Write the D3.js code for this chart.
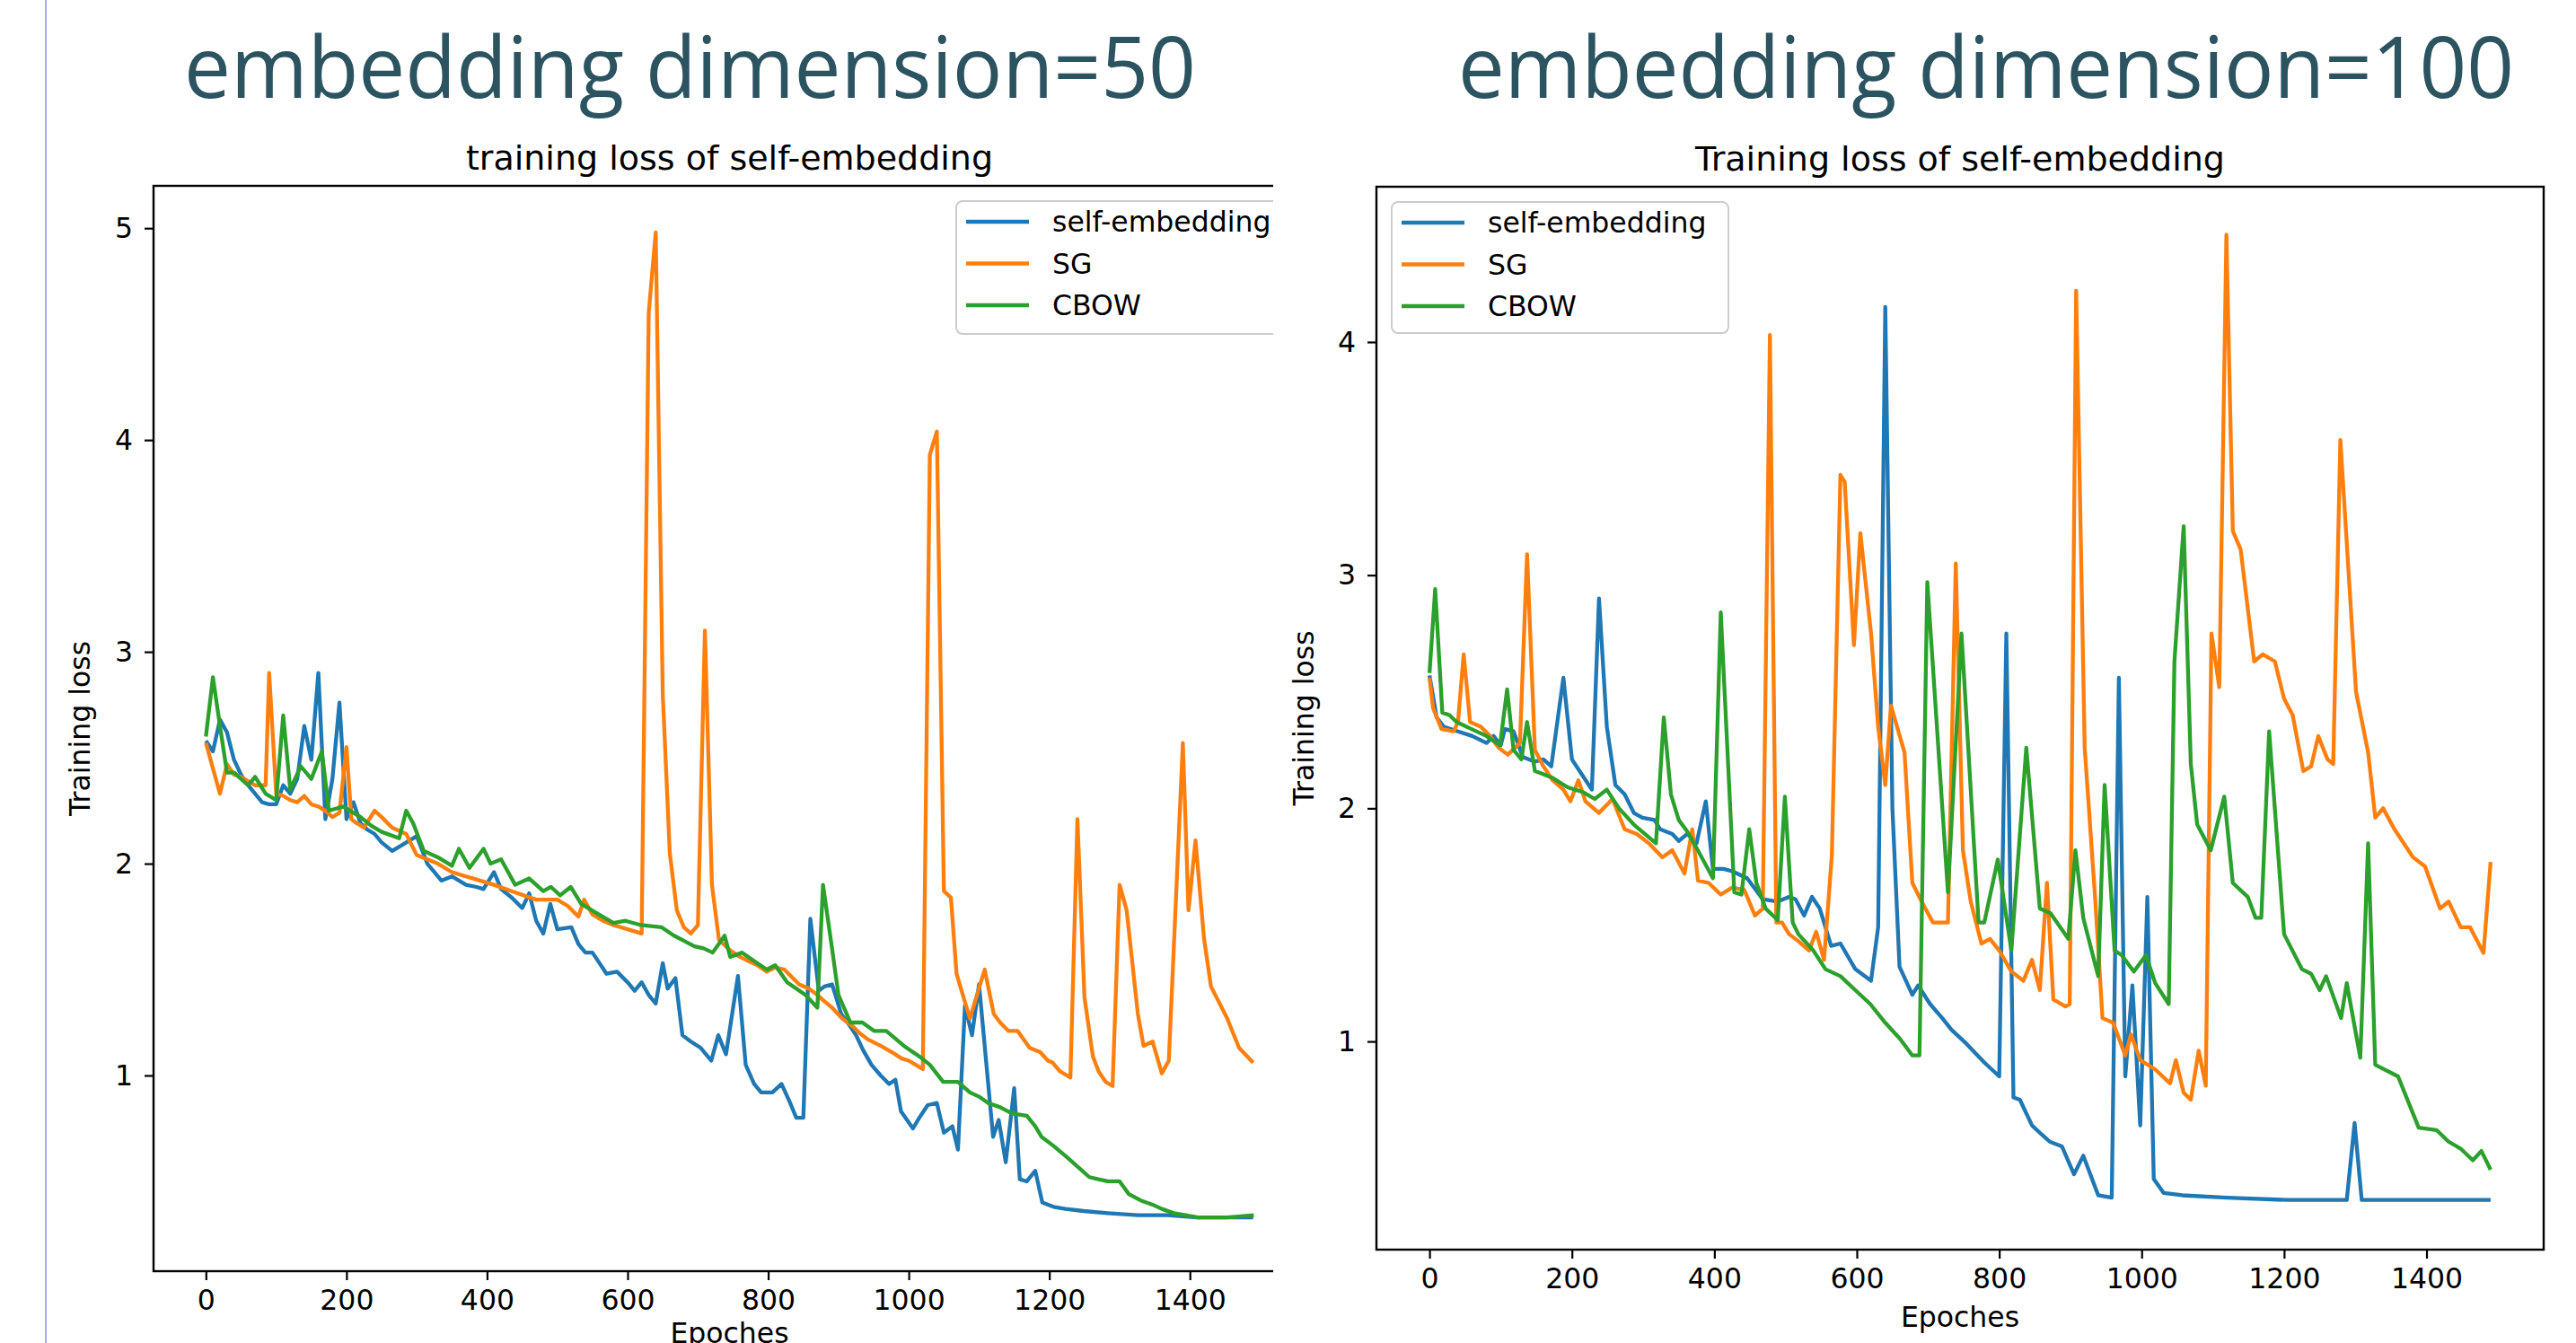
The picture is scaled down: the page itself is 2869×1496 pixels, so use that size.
<!DOCTYPE html>
<html><head><meta charset="utf-8">
<script src="https://cdn.jsdelivr.net/npm/d3@7"></script>
<style>html,body{margin:0;padding:0;background:#fff;overflow:hidden}</style>
</head><body>
<svg id="c" width="2869" height="1496" xmlns="http://www.w3.org/2000/svg"></svg>
<script>
// ---------- data ----------
const epochTicks = [0, 200, 400, 600, 800, 1000, 1200, 1400];
const lossTicks50 = [1, 2, 3, 4, 5];
const lossTicks100 = [1, 2, 3, 4];
const seriesNames = ["self-embedding", "SG", "CBOW"];
const seriesColors = ["#1f77b4", "#ff7f0e", "#2ca02c"];
const headings = ["embedding dimension=50", "embedding dimension=100"];
const titles = ["training loss of self-embedding", "Training loss of self-embedding"];
const xLabel = "Epoches";
const yLabel = "Training loss";

// embedding dimension = 50 : [epoch, loss]
const dim50_self = [[0,2.58],[10,2.53],[20,2.68],[30,2.62],[40,2.49],[50,2.42],[60,2.37],[70,2.33],[80,2.29],[90,2.28],[100,2.28],[110,2.37],[120,2.33],[130,2.40],[140,2.65],[150,2.49],[160,2.90],[170,2.21],[180,2.40],[190,2.76],[200,2.21],[210,2.29],[220,2.19],[230,2.16],[240,2.14],[250,2.10],[265,2.06],[280,2.09],[290,2.11],[300,2.13],[315,2.00],[325,1.96],[335,1.92],[350,1.94],[360,1.92],[370,1.90],[385,1.89],[395,1.88],[410,1.96],[420,1.88],[435,1.84],[450,1.79],[460,1.86],[470,1.73],[480,1.67],[490,1.81],[500,1.69],[520,1.70],[530,1.62],[540,1.58],[550,1.58],[560,1.53],[570,1.48],[585,1.49],[600,1.44],[610,1.40],[620,1.44],[630,1.38],[640,1.34],[650,1.53],[657,1.41],[668,1.46],[678,1.19],[690,1.16],[704,1.13],[719,1.07],[729,1.19],[740,1.10],[757,1.47],[768,1.05],[780,0.96],[790,0.92],[806,0.92],[819,0.96],[830,0.88],[840,0.80],[850,0.80],[860,1.74],[872,1.40],[880,1.42],[891,1.43],[904,1.29],[915,1.24],[925,1.19],[935,1.12],[947,1.05],[960,1.00],[972,0.96],[981,0.98],[989,0.83],[1006,0.75],[1015,0.80],[1027,0.86],[1040,0.87],[1050,0.73],[1062,0.76],[1070,0.65],[1080,1.33],[1090,1.19],[1100,1.43],[1110,1.07],[1120,0.71],[1128,0.79],[1138,0.59],[1150,0.94],[1158,0.51],[1168,0.50],[1180,0.55],[1190,0.40],[1206,0.38],[1223,0.37],[1249,0.36],[1283,0.35],[1326,0.34],[1368,0.34],[1411,0.33],[1453,0.33],[1490,0.33]];
const dim50_sg = [[0,2.57],[10,2.45],[20,2.33],[30,2.47],[40,2.42],[50,2.41],[60,2.39],[70,2.37],[85,2.37],[90,2.90],[100,2.33],[110,2.32],[120,2.30],[130,2.29],[140,2.32],[150,2.28],[160,2.27],[170,2.25],[180,2.22],[190,2.24],[200,2.55],[207,2.21],[215,2.19],[225,2.17],[240,2.25],[250,2.22],[265,2.17],[285,2.14],[300,2.04],[315,2.02],[330,2.00],[350,1.96],[370,1.94],[390,1.92],[410,1.90],[435,1.87],[470,1.83],[500,1.83],[515,1.80],[530,1.75],[538,1.83],[550,1.76],[565,1.73],[580,1.71],[600,1.69],[620,1.67],[630,4.60],[640,4.98],[650,2.80],[660,2.05],[670,1.78],[680,1.70],[690,1.67],[700,1.71],[710,3.10],[720,1.90],[730,1.64],[746,1.59],[760,1.56],[772,1.54],[785,1.52],[798,1.49],[810,1.51],[823,1.50],[844,1.43],[858,1.41],[870,1.38],[880,1.35],[891,1.32],[905,1.27],[921,1.23],[930,1.20],[942,1.17],[960,1.14],[976,1.11],[990,1.08],[1000,1.07],[1010,1.05],[1020,1.03],[1030,3.93],[1040,4.04],[1050,1.87],[1060,1.84],[1068,1.48],[1077,1.38],[1087,1.27],[1108,1.50],[1121,1.29],[1130,1.25],[1142,1.21],[1155,1.21],[1172,1.13],[1187,1.11],[1198,1.07],[1205,1.06],[1215,1.02],[1230,0.99],[1240,2.21],[1250,1.37],[1262,1.09],[1270,1.02],[1280,0.97],[1290,0.95],[1300,1.90],[1310,1.78],[1326,1.29],[1334,1.14],[1347,1.16],[1360,1.01],[1370,1.07],[1390,2.57],[1398,1.78],[1408,2.11],[1420,1.65],[1430,1.42],[1453,1.27],[1470,1.13],[1490,1.06]];
const dim50_cbow = [[0,2.60],[10,2.88],[20,2.65],[30,2.43],[40,2.43],[50,2.40],[60,2.37],[70,2.41],[85,2.33],[100,2.30],[110,2.70],[120,2.35],[135,2.46],[150,2.40],[165,2.53],[175,2.25],[185,2.26],[195,2.27],[210,2.24],[220,2.22],[235,2.18],[250,2.15],[275,2.12],[285,2.25],[295,2.19],[310,2.06],[330,2.03],[350,1.99],[360,2.07],[375,1.98],[395,2.07],[405,2.00],[420,2.02],[440,1.90],[460,1.93],[480,1.87],[491,1.89],[504,1.85],[519,1.89],[534,1.81],[559,1.76],[580,1.72],[597,1.73],[619,1.71],[648,1.70],[666,1.66],[695,1.61],[708,1.60],[721,1.58],[738,1.66],[746,1.56],[763,1.58],[780,1.54],[798,1.50],[810,1.52],[827,1.44],[840,1.41],[853,1.38],[870,1.32],[878,1.90],[890,1.62],[900,1.38],[917,1.25],[934,1.25],[951,1.21],[968,1.21],[993,1.14],[1019,1.08],[1030,1.05],[1049,0.97],[1070,0.97],[1087,0.92],[1100,0.90],[1113,0.87],[1130,0.85],[1147,0.82],[1168,0.81],[1180,0.76],[1189,0.71],[1205,0.67],[1223,0.62],[1240,0.57],[1257,0.52],[1270,0.51],[1283,0.50],[1300,0.50],[1313,0.44],[1330,0.41],[1347,0.39],[1360,0.37],[1377,0.35],[1394,0.34],[1411,0.33],[1453,0.33],[1491,0.34]];

// embedding dimension = 100 : [epoch, loss]
const dim100_self = [[0,2.57],[10,2.39],[20,2.35],[40,2.33],[60,2.31],[80,2.28],[90,2.31],[100,2.27],[106,2.34],[118,2.33],[131,2.22],[148,2.20],[160,2.21],[171,2.18],[188,2.56],[200,2.21],[215,2.14],[228,2.08],[238,2.90],[249,2.35],[261,2.10],[274,2.06],[287,1.98],[299,1.96],[316,1.95],[324,1.91],[341,1.89],[350,1.86],[362,1.89],[375,1.85],[388,2.03],[398,1.74],[413,1.74],[425,1.73],[446,1.70],[468,1.61],[489,1.60],[505,1.62],[514,1.61],[526,1.54],[537,1.62],[548,1.57],[558,1.47],[564,1.41],[577,1.42],[598,1.31],[620,1.26],[630,1.49],[640,4.15],[650,2.00],[660,1.32],[678,1.20],[686,1.24],[703,1.16],[720,1.10],[733,1.05],[754,0.99],[779,0.91],[800,0.85],[810,2.75],[820,0.76],[829,0.75],[846,0.64],[860,0.60],[871,0.57],[888,0.55],[905,0.43],[918,0.51],[939,0.34],[958,0.33],[968,2.56],[977,0.85],[987,1.24],[998,0.64],[1008,1.62],[1017,0.41],[1031,0.35],[1057,0.34],[1120,0.33],[1204,0.32],[1288,0.32],[1299,0.65],[1309,0.32],[1372,0.32],[1490,0.32]];
const dim100_sg = [[0,2.56],[5,2.43],[17,2.34],[34,2.33],[40,2.37],[48,2.66],[57,2.37],[72,2.35],[85,2.31],[97,2.26],[110,2.23],[127,2.28],[137,3.09],[148,2.25],[160,2.18],[173,2.12],[188,2.08],[198,2.03],[209,2.12],[219,2.03],[238,1.98],[257,2.04],[274,1.91],[291,1.89],[308,1.85],[327,1.79],[341,1.82],[358,1.72],[369,1.91],[377,1.69],[392,1.68],[409,1.63],[425,1.66],[442,1.65],[457,1.54],[468,1.57],[478,4.03],[487,1.51],[495,1.51],[505,1.46],[518,1.43],[533,1.39],[543,1.47],[554,1.35],[565,1.80],[577,3.43],[583,3.40],[596,2.70],[605,3.18],[620,2.75],[630,2.35],[640,2.10],[648,2.44],[667,2.24],[678,1.68],[691,1.60],[707,1.51],[728,1.51],[739,3.05],[749,1.82],[760,1.60],[775,1.42],[787,1.44],[800,1.39],[817,1.30],[834,1.26],[846,1.35],[857,1.22],[867,1.68],[876,1.18],[893,1.15],[899,1.16],[908,4.22],[920,2.26],[935,1.60],[945,1.10],[960,1.08],[977,0.94],[985,1.03],[998,0.92],[1019,0.88],[1040,0.82],[1048,0.92],[1059,0.78],[1069,0.75],[1080,0.96],[1090,0.81],[1098,2.75],[1109,2.52],[1119,4.46],[1128,3.19],[1139,3.11],[1158,2.63],[1170,2.66],[1187,2.63],[1200,2.47],[1212,2.40],[1227,2.16],[1238,2.18],[1248,2.31],[1261,2.21],[1269,2.19],[1279,3.58],[1301,2.50],[1318,2.24],[1328,1.96],[1339,2.00],[1355,1.91],[1381,1.79],[1398,1.75],[1419,1.57],[1431,1.60],[1448,1.49],[1461,1.49],[1480,1.38],[1490,1.77]];
const dim100_cbow = [[0,2.58],[8,2.94],[18,2.41],[28,2.40],[38,2.37],[59,2.34],[80,2.31],[99,2.27],[109,2.51],[118,2.25],[129,2.21],[137,2.37],[148,2.16],[173,2.13],[194,2.09],[215,2.07],[232,2.04],[249,2.08],[266,2.00],[287,1.93],[318,1.85],[329,2.39],[339,2.06],[350,1.95],[362,1.90],[375,1.83],[398,1.70],[409,2.84],[428,1.64],[438,1.63],[449,1.91],[459,1.68],[472,1.57],[489,1.52],[499,2.05],[510,1.51],[518,1.46],[539,1.39],[556,1.31],[577,1.28],[598,1.22],[619,1.16],[640,1.08],[661,1.01],[678,0.94],[688,0.94],[699,2.97],[728,1.64],[747,2.75],[771,1.51],[779,1.51],[798,1.78],[817,1.39],[838,2.26],[857,1.57],[872,1.55],[897,1.44],[907,1.82],[918,1.53],[939,1.28],[948,2.10],[962,1.39],[972,1.37],[989,1.30],[1006,1.37],[1019,1.25],[1038,1.16],[1046,2.63],[1059,3.21],[1069,2.19],[1078,1.93],[1097,1.82],[1116,2.05],[1128,1.68],[1149,1.62],[1160,1.53],[1168,1.53],[1179,2.33],[1200,1.46],[1225,1.31],[1238,1.29],[1250,1.22],[1259,1.28],[1280,1.10],[1288,1.25],[1307,0.93],[1318,1.85],[1328,0.90],[1360,0.85],[1389,0.63],[1414,0.62],[1431,0.57],[1448,0.54],[1465,0.49],[1477,0.53],[1490,0.45]];

// ---------- drawing ----------
const svg = d3.select("#c");
const FONT = "DejaVu Sans, sans-serif";
const TICK_FS = 31.5, TITLE_FS = 38, LEG_FS = 31.5;

svg.append("rect").attr("width", 2869).attr("height", 1496).attr("fill", "#fff");
// slide edge line
svg.append("line").attr("x1", 51).attr("x2", 51).attr("y1", 0).attr("y2", 1496)
  .attr("stroke", "#a7aedb").attr("stroke-width", 2);

// headings
const headPos = [{x: 205, len: 1127}, {x: 1624, len: 1176}];
headings.forEach((h, i) => {
  svg.append("text").attr("x", headPos[i].x).attr("y", 109)
    .attr("font-family", "Open Sans, Noto Sans, sans-serif").attr("font-size", 95)
    .attr("fill", "#2b5360").attr("textLength", headPos[i].len)
    .attr("lengthAdjust", "spacingAndGlyphs").text(h);
});

function panel(cfg) {
  const defs = svg.append("defs");
  const cid = "clip" + cfg.id;
  defs.append("clipPath").attr("id", cid).append("rect")
    .attr("x", 0).attr("y", 0).attr("width", cfg.clipRight).attr("height", 1496);
  defs.append("clipPath").attr("id", cid + "p").append("rect")
    .attr("x", cfg.x0).attr("y", cfg.y1).attr("width", cfg.x1 - cfg.x0).attr("height", cfg.y0 - cfg.y1);

  const g = svg.append("g").attr("clip-path", cfg.clipRight ? `url(#${cid})` : null);
  const x = d3.scaleLinear().domain([-74.5, 1564.5]).range([cfg.x0, cfg.x1]);
  const y = d3.scaleLinear().domain(cfg.yDomain).range([cfg.y0, cfg.y1]);

  const line = d3.line().x(d => x(d[0])).y(d => y(d[1]));
  const pg = g.append("g").attr("clip-path", `url(#${cid}p)`);
  cfg.series.forEach((s, i) => {
    pg.append("path").datum(s).attr("d", line).attr("fill", "none")
      .attr("stroke", seriesColors[i]).attr("stroke-width", 4.3)
      .attr("stroke-linejoin", "round").attr("stroke-linecap", "butt");
  });

  // axes
  const xa = g.append("g").attr("transform", `translate(0,${cfg.y0})`)
    .call(d3.axisBottom(x).tickValues(epochTicks).tickSize(10).tickPadding(11).tickFormat(d3.format("d")));
  const ya = g.append("g").attr("transform", `translate(${cfg.x0},0)`)
    .call(d3.axisLeft(y).tickValues(cfg.yTicks).tickSize(10).tickPadding(13).tickFormat(d3.format("d")));
  [xa, ya].forEach(a => {
    a.select(".domain").remove();
    a.selectAll(".tick line").attr("stroke", "#000").attr("stroke-width", 2.2);
    a.selectAll(".tick text").attr("font-family", FONT).attr("font-size", TICK_FS).attr("fill", "#000");
  });

  // frame
  g.append("rect").attr("x", cfg.x0).attr("y", cfg.y1).attr("width", cfg.x1 - cfg.x0)
    .attr("height", cfg.y0 - cfg.y1).attr("fill", "none").attr("stroke", "#000").attr("stroke-width", 2.4);

  // title & labels
  const cx = (cfg.x0 + cfg.x1) / 2;
  g.append("text").attr("x", cx).attr("y", cfg.y1 - 18).attr("text-anchor", "middle")
    .attr("font-family", FONT).attr("font-size", TITLE_FS).text(cfg.title);
  g.append("text").attr("x", cx).attr("y", cfg.y0 + cfg.xLabelDy).attr("text-anchor", "middle")
    .attr("font-family", FONT).attr("font-size", TICK_FS).text(xLabel);
  g.append("text").attr("transform", `translate(${cfg.yLabelX},${(cfg.y0 + cfg.y1) / 2}) rotate(-90)`)
    .attr("text-anchor", "middle").attr("font-family", FONT).attr("font-size", TICK_FS).text(yLabel);

  // legend
  const L = cfg.legend;
  const lg = g.append("g");
  lg.append("rect").attr("x", L.x).attr("y", L.y).attr("width", L.w).attr("height", L.h)
    .attr("rx", 7).attr("fill", "#fff").attr("fill-opacity", 0.8)
    .attr("stroke", "#cccccc").attr("stroke-width", 2);
  seriesNames.forEach((n, i) => {
    const yy = L.y + 23 + i * 46.5;
    lg.append("line").attr("x1", L.x + 11).attr("x2", L.x + 81).attr("y1", yy).attr("y2", yy)
      .attr("stroke", seriesColors[i]).attr("stroke-width", 4.3);
    lg.append("text").attr("x", L.x + 107).attr("y", yy + 11).attr("font-family", FONT)
      .attr("font-size", LEG_FS).text(n);
  });
}

panel({
  id: "a", x0: 171, x1: 1454, y0: 1416, y1: 207, yDomain: [0.076, 5.2], yTicks: lossTicks50,
  series: [dim50_self, dim50_sg, dim50_cbow], title: titles[0], yLabelX: 100, xLabelDy: 80,
  legend: {x: 1065, y: 224, w: 375, h: 148}, clipRight: 1418
});
panel({
  id: "b", x0: 1533, x1: 2833, y0: 1392, y1: 208, yDomain: [0.107, 4.666], yTicks: lossTicks100,
  series: [dim100_self, dim100_sg, dim100_cbow], title: titles[1], yLabelX: 1463, xLabelDy: 86,
  legend: {x: 1550, y: 225, w: 375, h: 146}, clipRight: null
});
</script>
</body></html>
